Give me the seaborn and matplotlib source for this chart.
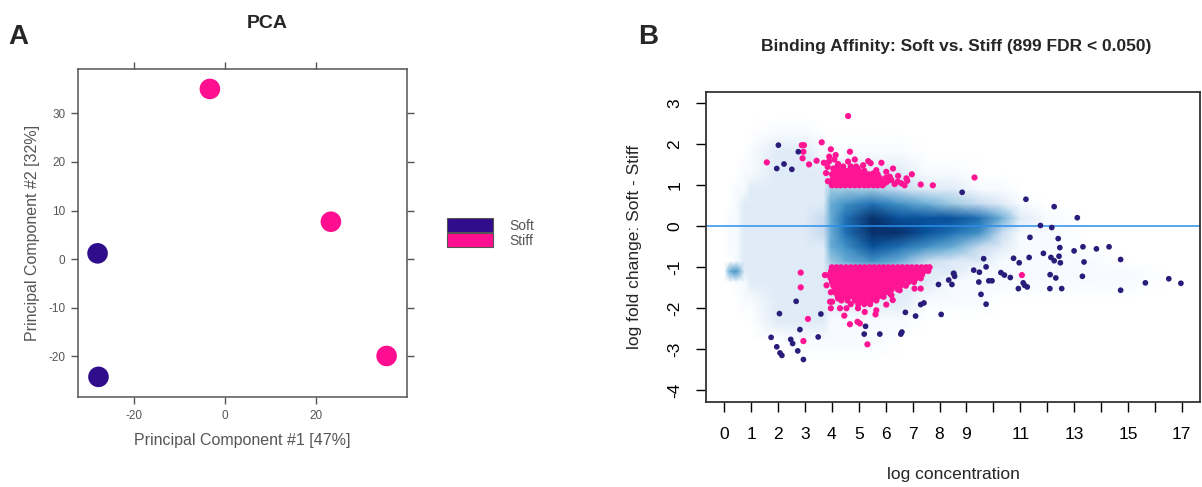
import numpy as np
import matplotlib
matplotlib.use("Agg")
import matplotlib.pyplot as plt
import seaborn as sns
from matplotlib.colors import LinearSegmentedColormap
from matplotlib.patches import Patch

# ---------------- Panel A : PCA ----------------
pc1 = [-27.9, -27.7, -3.3, 23.2, 35.4]
pc2 = [1.2, -24.2, 35.0, 7.7, -19.9]
pca_group = ["Soft", "Soft", "Stiff", "Stiff", "Stiff"]
pca_xticks = [-20, 0, 20]
pca_yticks = [-20, -10, 0, 10, 20, 30]
group_names = ["Soft", "Stiff"]
group_colors = ["#300D8A", "#FF0F8F"]

# ---------------- Panel B : MA plot ----------------
# smoothed density (0-9 colour steps)
dens_x = [0.0, 0.2, 0.45, 0.75, 1.0, 2.0, 3.0, 3.7, 3.95, 4.5, 5.5, 6.5, 7.5, 8.5, 9.5, 10.3, 11.0, 12.0, 13.5, 15.0, 16.5]
dens_y = [-3.3, -2.8, -2.3, -1.8, -1.35, -1.1, -0.85, -0.5, -0.15, 0.2, 0.55, 0.9, 1.3, 1.8, 2.3, 2.7]
dens = [
    [0, 0, 0, 0, 0, 0, 0, 0, 0, 0, 0, 0, 0, 0, 0, 0, 0, 0, 0, 0, 0],
    [0, 0, 0, 0, 0, 0, 1, 1, 1, 1, 1, 0, 0, 0, 0, 0, 0, 0, 0, 0, 0],
    [0, 0, 0, 0, 0, 2, 2, 2, 1, 1, 1, 1, 0, 0, 0, 0, 0, 0, 0, 0, 0],
    [0, 0, 0, 1, 1, 2, 2, 2, 2, 2, 2, 2, 1, 1, 1, 0, 0, 0, 0, 0, 0],
    [0, 0, 1, 1, 2, 2, 2, 2, 2, 2, 2, 2, 2, 1, 1, 1, 1, 1, 1, 1, 0],
    [0, 5, 6, 2, 2, 2, 2, 2, 3, 3, 3, 3, 2, 2, 1, 1, 1, 1, 1, 1, 0],
    [0, 0, 1, 2, 2, 2, 2, 2, 4, 5, 6, 5, 3, 2, 2, 1, 1, 1, 1, 0, 0],
    [0, 1, 1, 2, 2, 2, 2, 2, 5, 6, 8, 7, 6, 5, 3, 2, 1, 1, 0, 0, 0],
    [0, 1, 1, 2, 2, 2, 2, 3, 5, 7, 9, 9, 8, 7, 6, 3, 1, 1, 0, 0, 0],
    [0, 1, 1, 2, 2, 2, 2, 3, 5, 7, 9, 8, 8, 8, 7, 5, 2, 1, 0, 0, 0],
    [0, 0, 1, 2, 2, 2, 2, 2, 5, 6, 7, 6, 5, 4, 3, 2, 1, 0, 0, 0, 0],
    [0, 0, 1, 1, 2, 2, 2, 2, 4, 4, 4, 3, 2, 2, 1, 1, 0, 0, 0, 0, 0],
    [0, 0, 0, 1, 1, 2, 2, 2, 2, 2, 2, 2, 1, 1, 0, 0, 0, 0, 0, 0, 0],
    [0, 0, 0, 0, 1, 2, 2, 1, 1, 1, 1, 1, 0, 0, 0, 0, 0, 0, 0, 0, 0],
    [0, 0, 0, 0, 0, 1, 1, 0, 0, 0, 0, 0, 0, 0, 0, 0, 0, 0, 0, 0, 0],
    [0, 0, 0, 0, 0, 0, 0, 0, 0, 0, 0, 0, 0, 0, 0, 0, 0, 0, 0, 0, 0],
]

blue_pts = [
    (2.01, 1.98), (2.75, 1.82), (2.22, 1.52), (1.95, 1.41), (2.51, 1.39),
    (2.67, -1.83), (2.05, -2.13), (3.59, -2.14), (2.81, -2.52), (1.74, -2.71),
    (2.47, -2.76), (2.54, -2.86), (3.49, -2.70), (1.95, -2.94), (2.07, -3.09),
    (2.14, -3.15), (2.73, -3.04), (2.94, -3.25),
    (5.25, -2.44), (5.20, -2.63), (5.78, -2.63), (6.56, -2.63), (6.60, -2.58),
    (6.73, -2.10), (7.11, -2.19), (7.30, -1.91), (7.42, -1.87), (7.96, -1.42),
    (8.06, -2.15), (8.34, -1.31), (8.46, -1.42), (8.53, -1.15),
    (8.84, 0.83), (11.21, 0.66), (12.26, 0.48), (13.12, 0.21), (11.75, 0.02),
    (12.17, -0.03), (11.36, -0.27), (12.41, -0.30), (12.47, -0.52), (13.0, -0.60),
    (13.33, -0.50), (13.83, -0.55), (14.30, -0.50), (11.86, -0.66), (12.14, -0.76),
    (12.44, -0.73), (12.26, -0.84), (12.49, -0.89), (11.33, -0.76), (10.75, -0.78),
    (10.96, -0.89), (9.64, -0.79), (9.73, -0.99), (13.37, -0.87), (14.73, -0.81),
    (9.27, -1.07), (9.48, -1.12), (10.28, -1.13), (10.41, -1.19), (10.63, -1.25),
    (12.11, -1.18), (12.32, -1.26), (13.31, -1.22), (8.52, -1.15), (8.56, -1.22),
    (9.46, -1.36), (9.83, -1.33), (9.95, -1.33), (11.11, -1.38), (11.16, -1.44),
    (10.93, -1.52), (11.26, -1.48), (12.10, -1.52), (12.54, -1.52), (14.73, -1.56),
    (15.65, -1.38), (16.52, -1.28), (16.97, -1.39), (9.54, -1.66), (9.73, -1.90),
]

pink_pts = [
    (2.88, 1.98), (2.96, 1.98), (2.94, 1.82), (3.62, 2.05), (1.58, 1.56),
    (2.91, 1.66), (3.15, 1.51), (3.43, 1.60), (4.60, 2.69), (9.30, 1.19),
    (2.84, -1.13), (2.84, -1.49), (3.11, -2.26), (2.94, -2.80),
    (4.46, -2.18), (4.30, -2.00), (4.54, -2.00), (4.67, -2.39), (4.95, -2.33),
    (5.04, -2.37), (5.32, -2.88), (5.22, -2.09), (5.62, -2.15), (5.65, -2.05),
    (11.06, -1.19), (3.74, -1.19), (3.93, -1.23), (3.80, -1.44), (3.96, -1.61),
    (4.01, -1.84), (4.23, -1.76), (4.97, -2.00), (6.02, -1.91), (6.21, -1.68),
    (6.52, -1.56), (7.07, -1.52), (7.30, -1.52), (7.07, -1.31), (7.50, -1.07),
    (6.26, -1.80), (3.96, -2.00), (3.93, -1.84),
    (3.96, 1.88), (4.14, 1.74), (4.09, 1.63), (3.89, 1.58), (4.67, 1.82),
    (4.23, 1.52), (3.84, 1.45), (4.05, 1.41), (4.85, 1.63), (4.60, 1.58),
    (5.35, 1.59), (5.44, 1.54), (5.84, 1.55), (5.16, 1.49), (4.97, 1.41),
    (6.27, 1.41), (5.65, 1.37), (6.02, 1.33), (5.53, 1.29), (6.97, 1.27),
    (6.46, 1.23), (6.77, 1.17), (6.21, 1.13), (6.80, 1.11), (7.30, 1.02),
    (7.75, 1.00), (6.58, 1.05), (6.33, 1.03), (5.96, 1.05), (6.15, 1.21),
    (3.78, 1.30), (3.85, 1.10), (3.90, 1.70), (3.70, 1.55),
]

pink_up_rows = [
    (1.00, [4.00, 4.17, 4.33, 4.50, 4.68, 4.85, 5.02, 5.20, 5.36, 5.54, 5.70, 5.88, 6.70]),
    (1.09, [3.95, 4.12, 4.30, 4.46, 4.63, 4.80, 4.97, 5.14, 5.31, 5.48, 5.65, 5.82, 6.05, 6.45]),
    (1.18, [4.05, 4.22, 4.40, 4.57, 4.74, 4.90, 5.08, 5.25, 5.42, 5.60, 5.78, 6.00]),
    (1.27, [4.00, 4.16, 4.34, 4.50, 4.67, 4.84, 5.00, 5.18, 5.36, 5.70]),
    (1.36, [4.10, 4.30, 4.47, 4.63, 4.80, 5.00, 5.20]),
    (1.46, [4.20, 4.42, 4.70, 4.90]),
]

pink_low_rows = [
    (-1.00, [4.00, 4.17, 4.34, 4.52, 4.70, 4.87, 5.05, 5.22, 5.40, 5.57, 5.75, 5.92, 6.10, 6.27, 6.45, 6.62, 6.80, 6.97, 7.15, 7.33, 7.50, 7.63]),
    (-1.09, [3.97, 4.12, 4.28, 4.45, 4.62, 4.78, 4.95, 5.12, 5.30, 5.47, 5.64, 5.82, 6.00, 6.17, 6.35, 6.52, 6.70, 6.88, 7.05, 7.22, 7.42, 7.58]),
    (-1.18, [3.90, 4.06, 4.23, 4.40, 4.57, 4.74, 4.90, 5.07, 5.24, 5.40, 5.58, 5.75, 5.92, 6.10, 6.27, 6.45, 6.62, 6.80, 6.98, 7.15, 7.35]),
    (-1.27, [3.96, 4.13, 4.30, 4.48, 4.65, 4.82, 5.00, 5.16, 5.34, 5.50, 5.68, 5.85, 6.03, 6.20, 6.38, 6.55, 6.72, 6.90, 7.10, 7.30]),
    (-1.36, [4.00, 4.18, 4.35, 4.52, 4.70, 4.87, 5.04, 5.22, 5.40, 5.57, 5.74, 5.92, 6.10, 6.28, 6.45, 6.62, 6.85, 7.05]),
    (-1.45, [4.05, 4.22, 4.40, 4.57, 4.75, 4.92, 5.10, 5.27, 5.45, 5.62, 5.80, 5.97, 6.15, 6.33, 6.55, 6.75]),
    (-1.54, [4.10, 4.28, 4.45, 4.62, 4.80, 4.97, 5.15, 5.32, 5.50, 5.67, 5.85, 6.02, 6.22, 6.45]),
    (-1.63, [4.15, 4.35, 4.52, 4.70, 4.88, 5.05, 5.22, 5.40, 5.58, 5.76, 5.95, 6.15]),
    (-1.72, [4.22, 4.45, 4.62, 4.80, 5.00, 5.18, 5.35, 5.52, 5.72, 5.92]),
    (-1.81, [4.35, 4.58, 4.85, 5.05, 5.25, 5.45, 5.65]),
    (-1.90, [4.70, 4.98, 5.20, 5.42]),
]

ma_xticks = [0, 1, 2, 3, 4, 5, 6, 7, 8, 9, 10, 11, 12, 13, 14, 15, 16, 17]
ma_xlabels = ["0", "1", "2", "3", "4", "5", "6", "7", "8", "9", "", "11", "", "13", "", "15", "", "17"]
ma_yticks = [-4, -3, -2, -1, 0, 1, 2, 3]
ma_ylabels = ["-4", "-3", "-2", "-1", "0", "1", "2", "3"]

# ---------------- drawing ----------------
sns.set_theme(style="white")
plt.rcParams["font.family"] = ["Liberation Sans", "DejaVu Sans"]
plt.rcParams["axes.unicode_minus"] = False

fig = plt.figure(figsize=(12.02, 4.87), dpi=100)
W, H = 1202.0, 487.0

# Panel A
axA = fig.add_axes([77.7 / W, 1 - 397.3 / H, 329.0 / W, 328.3 / H])
sns.scatterplot(x=pc1, y=pc2, hue=pca_group, hue_order=group_names,
                palette=dict(zip(group_names, group_colors)), s=220,
                edgecolor="none", legend=False, ax=axA)
axA.set_xlim(-32.25, 39.8)
axA.set_ylim(-28.4, 39.1)
axA.set_xticks(pca_xticks)
axA.set_yticks(pca_yticks)
axA.tick_params(direction="out", length=5, width=1, bottom=True, left=True,
                top=True, right=True, labeltop=False, labelright=False,
                labelsize=8.5, colors="#555555", pad=4)
for sp in axA.spines.values():
    sp.set_color("#555555")
    sp.set_linewidth(1.1)
axA.set_xlabel("Principal Component #1 [47%]", fontsize=11.5, color="#555555", labelpad=8)
axA.set_ylabel("Principal Component #2 [32%]", fontsize=11.5, color="#555555", labelpad=6)
fig.text(267 / W, 1 - 23 / H, "PCA", fontsize=14, fontweight="bold", ha="center", va="center")
fig.text(18 / W, 1 - 37 / H, "A", fontsize=20, fontweight="bold", ha="center", va="center")

handles = [Patch(facecolor=c, edgecolor="#555555", linewidth=0.8, label=n)
           for n, c in zip(group_names, group_colors)]
fig.legend(handles=handles, loc="center left", bbox_to_anchor=(447 / W, 1 - 233 / H),
           frameon=False, fontsize=10, handlelength=3.3, handleheight=1.15,
           labelspacing=0.0, handletextpad=1.2, borderpad=0, borderaxespad=0,
           labelcolor="#555555")

# Panel B
axB = fig.add_axes([706 / W, 1 - 401.7 / H, 494.0 / W, 309.4 / H])
ramp = LinearSegmentedColormap.from_list(
    "ramp", ["#FFFFFF", "#F7FBFF", "#DEEBF7", "#C6DBEF", "#9ECAE1", "#6BAED6",
             "#4292C6", "#2171B5", "#08519C", "#08306B"])
axB.pcolormesh(dens_x, dens_y, np.array(dens, dtype=float), shading="gouraud",
               cmap=ramp, vmin=0, vmax=9, zorder=0)
axB.axhline(0, color="#2B8FEA", lw=1.1, zorder=1)

px = [p[0] for p in pink_pts]
py = [p[1] for p in pink_pts]
for yv, xs in pink_up_rows + pink_low_rows:
    px += xs
    py += [yv] * len(xs)
sns.scatterplot(x=px, y=py, color="#FF1493", s=20, edgecolor="none", ax=axB, zorder=3)
sns.scatterplot(x=[p[0] for p in blue_pts], y=[p[1] for p in blue_pts],
                color="#2A1C7A", s=17, edgecolor="none", ax=axB, zorder=4)

axB.set_xlim(-0.68, 17.68)
axB.set_ylim(-4.28, 3.27)
axB.set_xticks(ma_xticks)
axB.set_xticklabels(ma_xlabels)
axB.set_yticks(ma_yticks)
axB.set_yticklabels(ma_ylabels, rotation=90, va="center")
axB.tick_params(axis="x", direction="out", length=7, width=1, bottom=True,
                labelsize=12.5, pad=11, colors="black")
axB.tick_params(axis="y", direction="out", length=7, width=1, left=True,
                labelsize=12.5, pad=10, colors="black")
for sp in axB.spines.values():
    sp.set_color("#333333")
    sp.set_linewidth(1.3)
axB.set_xlabel("log concentration", fontsize=12.5, labelpad=18)
axB.set_ylabel("log fold change: Soft - Stiff", fontsize=12.5, labelpad=18)
fig.text(956 / W, 1 - 47 / H, "Binding Affinity: Soft vs. Stiff (899 FDR < 0.050)",
         fontsize=12.5, fontweight="bold", ha="center", va="center")
fig.text(648 / W, 1 - 37 / H, "B", fontsize=20, fontweight="bold", ha="center", va="center")

fig.savefig("out.png", dpi=100)
